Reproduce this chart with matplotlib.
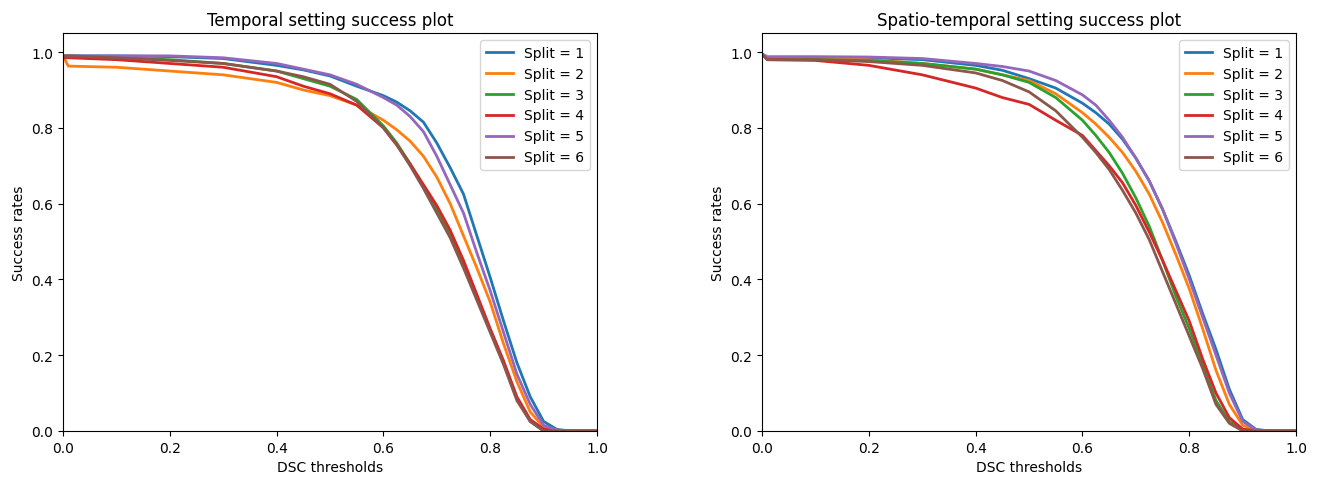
import numpy as np
import matplotlib
matplotlib.use('Agg')
import matplotlib.pyplot as plt

thresholds = [0.0, 0.01, 0.1, 0.2, 0.3, 0.4, 0.45, 0.5, 0.55, 0.6, 0.625,
              0.65, 0.675, 0.7, 0.725, 0.75, 0.775, 0.8, 0.825, 0.85, 0.875,
              0.9, 0.925, 0.95, 1.0]

labels = ['Split = 1', 'Split = 2', 'Split = 3',
          'Split = 4', 'Split = 5', 'Split = 6']

# temporal setting
temporal_1 = [0.99, 0.99, 0.99, 0.988, 0.983, 0.965, 0.953, 0.937, 0.91, 0.885, 0.868,
              0.845, 0.815, 0.76, 0.695, 0.625, 0.515, 0.405, 0.29, 0.18, 0.09,
              0.025, 0.004, 0.0, 0.0]
temporal_2 = [0.99, 0.963, 0.96, 0.95, 0.94, 0.92, 0.90, 0.885, 0.86, 0.82, 0.795,
              0.765, 0.725, 0.67, 0.60, 0.515, 0.43, 0.34, 0.23, 0.13, 0.05,
              0.01, 0.002, 0.0, 0.0]
temporal_3 = [0.99, 0.99, 0.985, 0.98, 0.97, 0.95, 0.93, 0.91, 0.875, 0.805, 0.76,
              0.705, 0.645, 0.585, 0.52, 0.44, 0.35, 0.265, 0.18, 0.085, 0.025,
              0.0, 0.0, 0.0, 0.0]
temporal_4 = [0.985, 0.985, 0.98, 0.97, 0.96, 0.935, 0.91, 0.89, 0.86, 0.80, 0.755,
              0.705, 0.65, 0.595, 0.53, 0.45, 0.36, 0.27, 0.185, 0.09, 0.03,
              0.005, 0.0, 0.0, 0.0]
temporal_5 = [0.99, 0.99, 0.99, 0.99, 0.985, 0.97, 0.955, 0.94, 0.915, 0.88, 0.86,
              0.83, 0.79, 0.725, 0.65, 0.575, 0.47, 0.37, 0.26, 0.15, 0.07,
              0.015, 0.002, 0.0, 0.0]
temporal_6 = [0.99, 0.99, 0.985, 0.978, 0.97, 0.95, 0.935, 0.915, 0.87, 0.80, 0.755,
              0.70, 0.64, 0.575, 0.51, 0.43, 0.345, 0.26, 0.175, 0.08, 0.025,
              0.0, 0.0, 0.0, 0.0]

# spatio-temporal setting
spatio_1 = [0.995, 0.985, 0.985, 0.985, 0.98, 0.965, 0.952, 0.93, 0.905, 0.865, 0.84,
            0.81, 0.77, 0.72, 0.66, 0.585, 0.50, 0.41, 0.31, 0.215, 0.11,
            0.03, 0.004, 0.0, 0.0]
spatio_2 = [0.995, 0.982, 0.982, 0.98, 0.97, 0.955, 0.94, 0.925, 0.89, 0.84, 0.81,
            0.775, 0.735, 0.685, 0.625, 0.55, 0.465, 0.375, 0.27, 0.16, 0.07,
            0.015, 0.002, 0.0, 0.0]
spatio_3 = [0.995, 0.98, 0.98, 0.978, 0.97, 0.955, 0.94, 0.92, 0.88, 0.82, 0.78,
            0.735, 0.68, 0.615, 0.54, 0.45, 0.355, 0.27, 0.175, 0.08, 0.025,
            0.003, 0.0, 0.0, 0.0]
spatio_4 = [0.995, 0.98, 0.978, 0.965, 0.94, 0.905, 0.88, 0.862, 0.82, 0.78, 0.74,
            0.70, 0.655, 0.595, 0.525, 0.45, 0.37, 0.29, 0.19, 0.10, 0.035,
            0.005, 0.0, 0.0, 0.0]
spatio_5 = [0.995, 0.988, 0.988, 0.987, 0.983, 0.97, 0.962, 0.95, 0.925, 0.887, 0.86,
            0.82, 0.775, 0.72, 0.66, 0.585, 0.495, 0.40, 0.30, 0.20, 0.10,
            0.025, 0.003, 0.0, 0.0]
spatio_6 = [0.995, 0.98, 0.98, 0.975, 0.965, 0.945, 0.925, 0.895, 0.845, 0.775, 0.735,
            0.69, 0.635, 0.575, 0.505, 0.42, 0.335, 0.25, 0.165, 0.07, 0.02,
            0.0, 0.0, 0.0, 0.0]

temporal = [temporal_1, temporal_2, temporal_3, temporal_4, temporal_5, temporal_6]
spatio = [spatio_1, spatio_2, spatio_3, spatio_4, spatio_5, spatio_6]

fig = plt.figure(figsize=(13.2, 4.81), dpi=100)
ax1 = fig.add_axes([0.0477, 0.102, 0.4046, 0.827])
ax2 = fig.add_axes([0.5773, 0.102, 0.4046, 0.827])


def draw(ax, curves, title):
    for y, lab in zip(curves, labels):
        ax.plot(thresholds, y, label=lab, linewidth=2)
    ax.set_xlim(0, 1.0)
    ax.set_ylim(0, 1.05)
    ax.set_title(title)
    ax.set_xlabel('DSC thresholds')
    ax.set_ylabel('Success rates')
    ax.legend(loc='upper right')


draw(ax1, temporal, 'Temporal setting success plot')
draw(ax2, spatio, 'Spatio-temporal setting success plot')

fig.savefig('out.png', dpi=100)
